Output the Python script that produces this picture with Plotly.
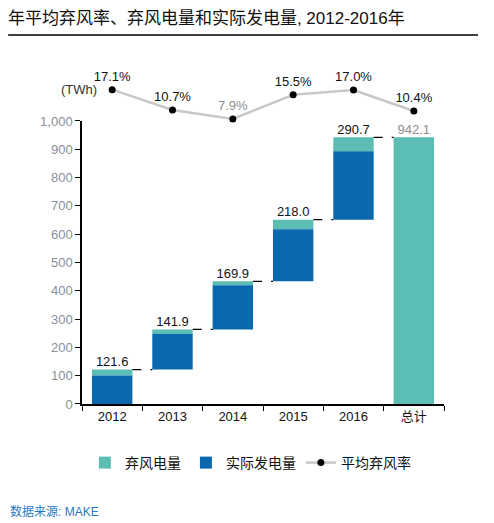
import plotly.graph_objects as go

categories = ["2012", "2013", "2014", "2015", "2016", "总计"]
years = ["2012", "2013", "2014", "2015", "2016"]
total_gen = [121.6, 141.9, 169.9, 218.0, 290.7]
curtail_rate = [17.1, 10.7, 7.9, 15.5, 17.0]
overall_rate = 10.4
grand_total = 942.1
curtailed = [round(t * r / 100, 1) for t, r in zip(total_gen, curtail_rate)]
actual = [round(t - c, 1) for t, c in zip(total_gen, curtailed)]
y_ticks = list(range(0, 1001, 100))

TEAL = "#5bbdb3"
BLUE = "#0a69ad"
FONT = "Liberation Sans, Noto Sans CJK SC, sans-serif"

starts = []
acc = 0.0
for t in total_gen:
    starts.append(acc)
    acc += t
ends = [s + t for s, t in zip(starts, total_gen)]

fig = go.Figure()
fig.add_trace(go.Bar(
    x=categories, y=curtailed + [grand_total],
    base=[s + a for s, a in zip(starts, actual)] + [0],
    marker=dict(color=TEAL, line=dict(width=0)), name="弃风电量", width=0.67,
))
fig.add_trace(go.Bar(
    x=years, y=actual, base=starts,
    marker=dict(color=BLUE, line=dict(width=0)), name="实际发电量", width=0.67,
))
# value labels above bars
fig.add_trace(go.Scatter(
    x=categories, y=ends + [grand_total], mode="text",
    text=[f"{v:.1f}" for v in total_gen] + [f"{grand_total:.1f}"],
    textposition="top center",
    textfont=dict(size=13, color=["#111"] * 5 + ["#8c8c8c"], family=FONT),
    showlegend=False, hoverinfo="skip", cliponaxis=False,
))
# rate line
rates = curtail_rate + [overall_rate]
fig.add_trace(go.Scatter(
    x=categories, y=rates, yaxis="y2", mode="lines+markers+text",
    line=dict(color="#c8c8c8", width=2.5),
    marker=dict(color="#000", size=7),
    text=[f"{r:.1f}%" for r in rates], textposition="top center",
    textfont=dict(size=13, color=["#111", "#111", "#8c8c8c", "#111", "#111", "#111"], family=FONT),
    name="平均弃风率", cliponaxis=False,
))

# dashed connectors
shapes = []
for i in range(len(ends)):
    shapes.append(dict(type="line", xref="x", yref="y",
                       x0=i + 0.335, x1=i + 1 - 0.335, y0=ends[i], y1=ends[i],
                       line=dict(color="#000", width=1.3, dash="dash")))
# title rule
shapes.append(dict(type="line", xref="paper", yref="paper",
                   x0=-0.204, x1=1.094, y0=1.0726, y1=1.0726,
                   line=dict(color="#000", width=1.5)))

fig.update_layout(
    width=494, height=523,
    margin=dict(l=82, r=50, t=60, b=119),
    paper_bgcolor="white", plot_bgcolor="white",
    font=dict(family=FONT, size=13, color="#111"),
    barmode="overlay",
    title=dict(text="年平均弃风率、弃风电量和实际发电量, 2012-2016年",
               x=0.016, xanchor="left", y=0.966, yanchor="middle",
               font=dict(size=17, color="#111", family=FONT)),
    xaxis=dict(type="category", categoryorder="array", categoryarray=categories,
               range=[-0.5, 5.5], tickson="boundaries", ticks="outside", ticklen=5,
               tickcolor="#000", showline=True, linecolor="#000", linewidth=1.5,
               showgrid=False, tickfont=dict(size=13, color="#111")),
    yaxis=dict(domain=[0, 0.8228], range=[0, 1000], tickvals=y_ticks, tickformat=",",
               ticks="outside", ticklen=5, tickcolor="#000", showline=True,
               linecolor="#000", linewidth=1.5, showgrid=False, zeroline=False,
               tickfont=dict(size=13, color="#8a8f99")),
    yaxis2=dict(domain=[0.8228, 1], range=[7.26, 26.44], anchor="x", visible=False),
    legend=dict(orientation="h", x=0.008, xanchor="left", y=-0.125, yanchor="top",
                font=dict(size=14, color="#111"), traceorder="normal",
                itemwidth=30),
    shapes=shapes,
    annotations=[
        dict(text="(TWh)", xref="paper", yref="paper", x=0.047, y=0.9137,
             xanchor="right", yanchor="middle", showarrow=False,
             font=dict(size=13, color="#333")),
        dict(text="数据来源: MAKE", xref="paper", yref="paper", x=-0.204, y=-0.3128,
             xanchor="left", yanchor="middle", showarrow=False,
             font=dict(size=12, color="#2a78c2")),
    ],
)

fig.write_html("out.html", config={"displayModeBar": False},
               post_script="document.body.style.margin='0';document.body.style.padding='0';")
